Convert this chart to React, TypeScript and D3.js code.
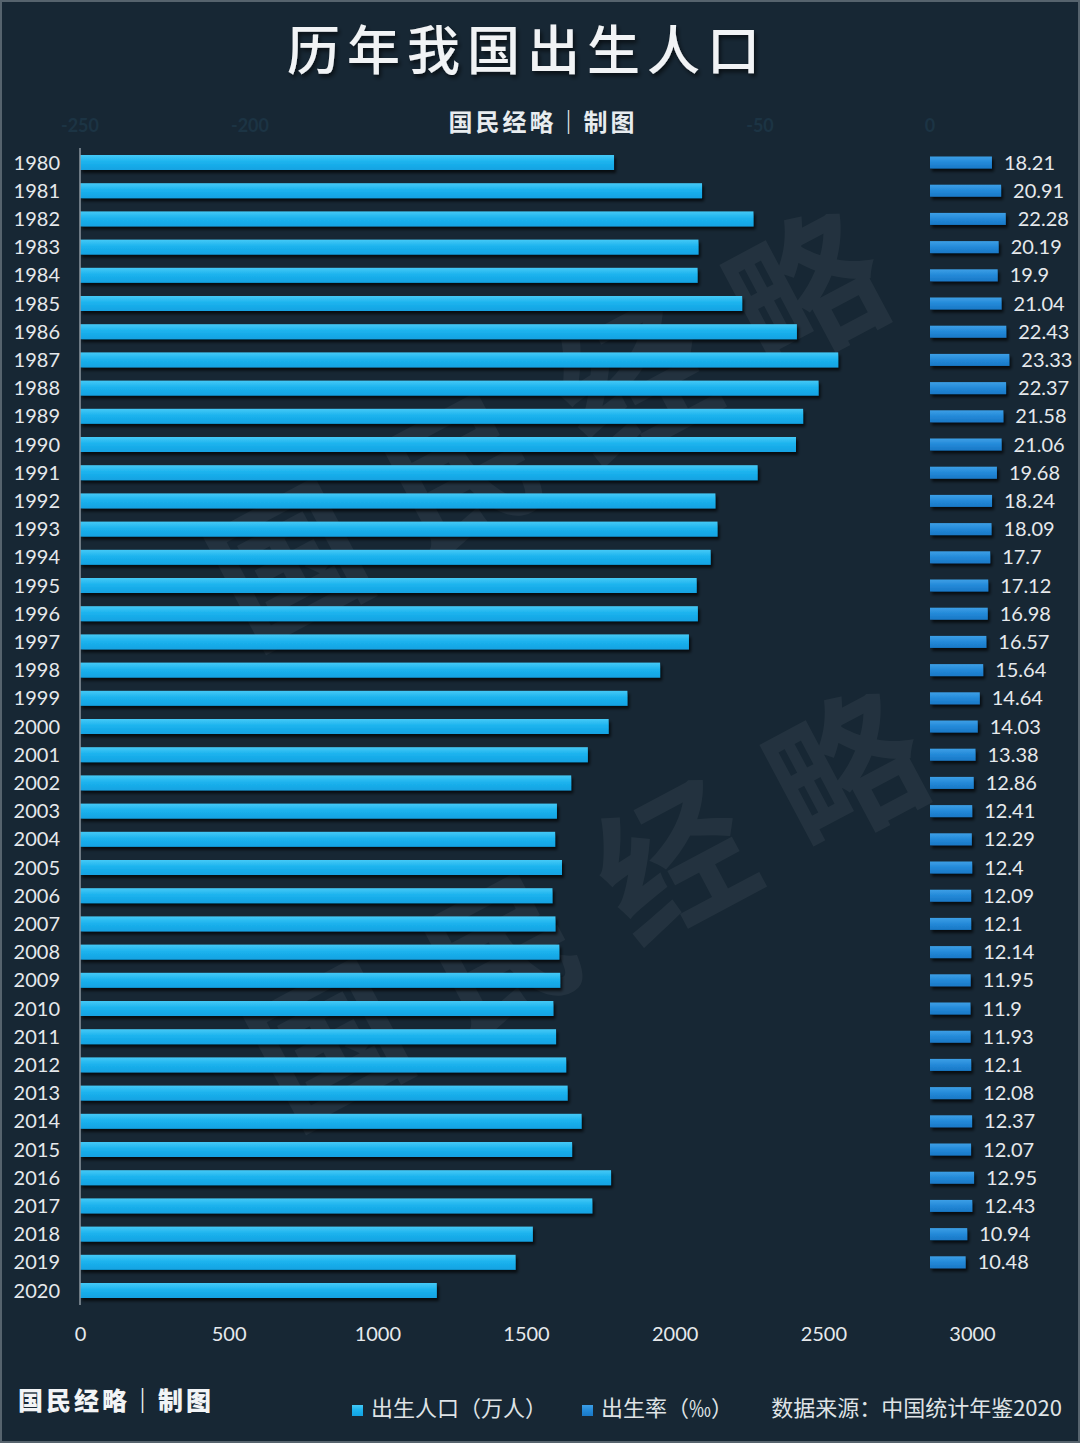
import * as d3 from 'd3';
import { useEffect, useRef } from 'react';

const years = [
  '1980', '1981', '1982', '1983', '1984', '1985', '1986', '1987', '1988', '1989',
  '1990', '1991', '1992', '1993', '1994', '1995', '1996', '1997', '1998', '1999',
  '2000', '2001', '2002', '2003', '2004', '2005', '2006', '2007', '2008', '2009',
  '2010', '2011', '2012', '2013', '2014', '2015', '2016', '2017', '2018', '2019', '2020',
];

// 出生人口（万人）
const births = [
  1796, 2092, 2265, 2080, 2077, 2227, 2411, 2550, 2484, 2432,
  2408, 2279, 2137, 2144, 2121, 2074, 2078, 2048, 1951, 1841,
  1778, 1708, 1652, 1604, 1598, 1621, 1589, 1599, 1612, 1615,
  1592, 1601, 1635, 1640, 1687, 1655, 1786, 1723, 1523, 1465, 1200,
];

// 出生率（‰）
const rates = [
  18.21, 20.91, 22.28, 20.19, 19.9, 21.04, 22.43, 23.33, 22.37, 21.58,
  21.06, 19.68, 18.24, 18.09, 17.7, 17.12, 16.98, 16.57, 15.64, 14.64,
  14.03, 13.38, 12.86, 12.41, 12.29, 12.4, 12.09, 12.1, 12.14, 11.95,
  11.9, 11.93, 12.1, 12.08, 12.37, 12.07, 12.95, 12.43, 10.94, 10.48,
];

const birthTicks = [0, 500, 1000, 1500, 2000, 2500, 3000];
// secondary axis ticks that peek out (the rest hide behind the subtitle)
const rateTicks = [-250, -200, -50, 0];

const W = 1080;
const H = 1443;
const BG = '#172734';
const FONT = 'Lato, "Noto Sans CJK SC", sans-serif';
const CJK = '"Noto Sans CJK SC", sans-serif';

const App = () => {
  const ref = useRef<SVGSVGElement>(null);

  useEffect(() => {
    document.body.style.margin = '0';
    const svg = d3.select(ref.current);
    svg.selectAll('*').remove();

    const defs = svg.append('defs');
    const shadow = defs.append('filter').attr('id', 'shadow')
      .attr('x', '-5%').attr('y', '-50%').attr('width', '120%').attr('height', '250%');
    shadow.append('feDropShadow').attr('dx', 2).attr('dy', 3).attr('stdDeviation', 1.5)
      .attr('flood-color', '#000').attr('flood-opacity', 0.7);
    const tshadow = defs.append('filter').attr('id', 'tshadow');
    tshadow.append('feDropShadow').attr('dx', 2).attr('dy', 3).attr('stdDeviation', 2)
      .attr('flood-color', '#000').attr('flood-opacity', 0.6);

    const g1 = defs.append('linearGradient').attr('id', 'gBirth').attr('x1', 0).attr('y1', 0).attr('x2', 0).attr('y2', 1);
    g1.append('stop').attr('offset', '0%').attr('stop-color', '#45c9f6');
    g1.append('stop').attr('offset', '45%').attr('stop-color', '#1cb3ee');
    g1.append('stop').attr('offset', '100%').attr('stop-color', '#12a2e2');
    const g2 = defs.append('linearGradient').attr('id', 'gRate').attr('x1', 0).attr('y1', 0).attr('x2', 0).attr('y2', 1);
    g2.append('stop').attr('offset', '0%').attr('stop-color', '#3d9fe6');
    g2.append('stop').attr('offset', '50%').attr('stop-color', '#2389d8');
    g2.append('stop').attr('offset', '100%').attr('stop-color', '#1a78c6');

    svg.append('rect').attr('width', W).attr('height', H).attr('fill', BG);
    svg.append('rect').attr('x', 1).attr('y', 1).attr('width', W - 2).attr('height', H - 2)
      .attr('fill', 'none').attr('stroke', '#56636d').attr('stroke-width', 2);

    // watermark
    const wm = [
      { x: 575, y: 430 },
      { x: 615, y: 910 },
    ];
    wm.forEach(p => {
      svg.append('text')
        .attr('transform', `translate(${p.x},${p.y}) rotate(-28)`)
        .attr('text-anchor', 'middle')
        .attr('dominant-baseline', 'middle')
        .attr('font-family', CJK)
        .attr('font-weight', 700)
        .attr('font-size', 150)
        .attr('letter-spacing', 45)
        .attr('fill', '#ffffff')
        .attr('opacity', 0.05)
        .text('国民经略');
    });

    const x = d3.scaleLinear().domain([0, 3000]).range([80, 972]);
    const xr = d3.scaleLinear().domain([-250, 0]).range([80, 930]);
    const y = d3.scalePoint<string>().domain(years).range([162.5, 1290.5]);
    const bh = 15;
    const ty = 2; // text baseline nudge

    // faint top axis (secondary)
    svg.append('g').attr('transform', 'translate(0,127)')
      .selectAll('text').data(rateTicks).enter().append('text')
      .attr('x', d => xr(d)).attr('text-anchor', 'middle').attr('dominant-baseline', 'middle')
      .attr('font-family', FONT).attr('font-weight', 700).attr('font-size', 18).attr('fill', '#1c3444')
      .text(d => d);

    // title
    svg.append('text').attr('x', 527).attr('y', 56).attr('text-anchor', 'middle')
      .attr('dominant-baseline', 'middle').attr('font-family', CJK).attr('font-weight', 500)
      .attr('font-size', 53).attr('letter-spacing', 7).attr('fill', '#f1f3f5')
      .attr('filter', 'url(#tshadow)')
      .text('历年我国出生人口');

    svg.append('text').attr('x', 543).attr('y', 124).attr('text-anchor', 'middle')
      .attr('dominant-baseline', 'middle').attr('font-family', CJK).attr('font-weight', 700)
      .attr('font-size', 24).attr('fill', '#e8ecef').attr('letter-spacing', 3)
      .text('国民经略｜制图');

    // birth bars
    svg.append('g').selectAll('rect').data(births).enter().append('rect')
      .attr('x', x(0)).attr('y', (d, i) => y(years[i])! - bh / 2)
      .attr('width', d => x(d) - x(0)).attr('height', bh)
      .attr('fill', 'url(#gBirth)').attr('filter', 'url(#shadow)');

    // rate bars
    svg.append('g').selectAll('rect').data(rates).enter().append('rect')
      .attr('x', xr(0)).attr('y', (d, i) => y(years[i])! - 6)
      .attr('width', d => xr(d) - xr(0)).attr('height', 12)
      .attr('fill', 'url(#gRate)').attr('filter', 'url(#shadow)');

    svg.append('g').selectAll('text').data(rates).enter().append('text')
      .attr('x', d => xr(d) + 12).attr('y', (d, i) => y(years[i])! + ty)
      .attr('dominant-baseline', 'middle').attr('font-family', FONT).attr('font-size', 20)
      .attr('fill', '#e6e9ec').text(d => d);

    // y axis
    svg.append('line').attr('x1', 80).attr('x2', 80).attr('y1', 148).attr('y2', 1305)
      .attr('stroke', '#8c979f').attr('stroke-width', 1.5);
    svg.append('g').selectAll('text').data(years).enter().append('text')
      .attr('x', 60).attr('y', d => y(d)! + ty).attr('text-anchor', 'end')
      .attr('dominant-baseline', 'middle').attr('font-family', FONT).attr('font-size', 20)
      .attr('fill', '#e6e9ec').text(d => d);

    // x axis
    const xa = svg.append('g').attr('transform', 'translate(0,1324)')
      .call(d3.axisBottom(x).tickValues(birthTicks).tickSize(0).tickFormat(d => String(d)));
    xa.select('.domain').remove();
    xa.selectAll('text').attr('font-family', FONT).attr('font-size', 20).attr('fill', '#e6e9ec');

    // footer
    svg.append('text').attr('x', 18).attr('y', 1403).attr('dominant-baseline', 'middle')
      .attr('font-family', CJK).attr('font-weight', 900).attr('font-size', 25)
      .attr('fill', '#f2f4f6').attr('letter-spacing', 3).text('国民经略｜制图');

    const legend = [
      { x: 352, label: '出生人口（万人）', fill: 'url(#gBirth)' },
      { x: 582, label: '出生率（‰）', fill: 'url(#gRate)' },
    ];
    legend.forEach(l => {
      svg.append('rect').attr('x', l.x).attr('y', 1405).attr('width', 11).attr('height', 11).attr('fill', l.fill);
      svg.append('text').attr('x', l.x + 19).attr('y', 1410).attr('dominant-baseline', 'middle')
        .attr('font-family', CJK).attr('font-size', 22).attr('fill', '#dfe3e6').text(l.label);
    });
    svg.append('text').attr('x', 1062).attr('y', 1410).attr('text-anchor', 'end')
      .attr('dominant-baseline', 'middle').attr('font-family', CJK).attr('font-size', 22)
      .attr('fill', '#dfe3e6').text('数据来源：中国统计年鉴2020');
  }, []);

  return <svg ref={ref} width={W} height={H} style={{ display: 'block' }} />;
};

export default App;
